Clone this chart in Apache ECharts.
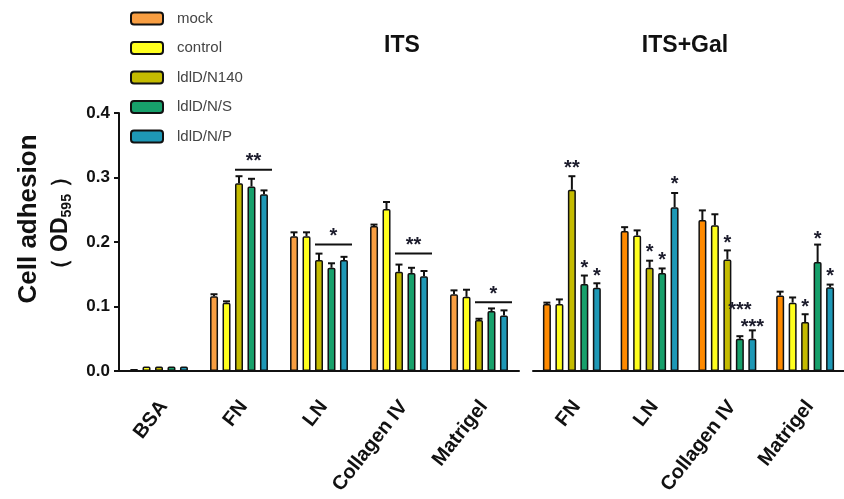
<!DOCTYPE html>
<html><head><meta charset="utf-8">
<script src="https://cdn.jsdelivr.net/npm/echarts@6/dist/echarts.min.js"></script>
<style>html,body{margin:0;padding:0;background:#fff}#c{width:844px;height:499px}</style>
</head><body><div id="c"></div>
<script>
// ---------- data ----------
const seriesNames = ['mock', 'control', 'ldlD/N140', 'ldlD/N/S', 'ldlD/N/P'];
const catsITS = ['BSA', 'FN', 'LN', 'Collagen IV', 'Matrigel'];
const catsGal = ['FN', 'LN', 'Collagen IV', 'Matrigel'];
const yTicks = [0, 0.1, 0.2, 0.3, 0.4];

// ITS means (per series, across catsITS)
const itsMock    = [0.003, 0.116, 0.209, 0.225, 0.119];
const itsControl = [0.007, 0.106, 0.209, 0.251, 0.115];
const itsN140    = [0.007, 0.291, 0.172, 0.154, 0.079];
const itsNS      = [0.007, 0.286, 0.160, 0.152, 0.093];
const itsNP      = [0.007, 0.274, 0.172, 0.147, 0.086];
// ITS error (upper)
const itsMockErr    = [0.000, 0.003, 0.006, 0.002, 0.006];
const itsControlErr = [0.000, 0.002, 0.006, 0.011, 0.011];
const itsN140Err    = [0.000, 0.011, 0.010, 0.011, 0.002];
const itsNSErr      = [0.000, 0.012, 0.007, 0.008, 0.004];
const itsNPErr      = [0.000, 0.006, 0.005, 0.008, 0.008];

// ITS+Gal means (across catsGal)
const galMock    = [0.104, 0.217, 0.234, 0.117];
const galControl = [0.104, 0.210, 0.226, 0.106];
const galN140    = [0.281, 0.160, 0.173, 0.076];
const galNS      = [0.135, 0.152, 0.050, 0.169];
const galNP      = [0.129, 0.254, 0.050, 0.130];
// ITS+Gal error (upper)
const galMockErr    = [0.002, 0.006, 0.015, 0.006];
const galControlErr = [0.007, 0.008, 0.017, 0.008];
const galN140Err    = [0.021, 0.011, 0.014, 0.012];
const galNSErr      = [0.013, 0.007, 0.004, 0.027];
const galNPErr      = [0.007, 0.022, 0.013, 0.004];

// significance (ITS): bracket over ldlD groups
const itsSigCat   = [1, 2, 3, 4];
const itsSigLevel = [0.312, 0.196, 0.182, 0.1065];
const itsSigText  = ['**', '*', '**', '*'];

// significance (ITS+Gal): [category, series, level, text]
const galSigCat    = [0, 0, 0, 1, 1, 1, 2, 2, 2, 3, 3, 3];
const galSigSeries = [2, 3, 4, 2, 3, 4, 2, 3, 4, 2, 3, 4];
const galSigLevel  = [0.320, 0.165, 0.153, 0.190, 0.177, 0.295, 0.204, 0.100, 0.074, 0.105, 0.210, 0.152];
const galSigText   = ['**', '*', '*', '*', '*', '*', '*', '***', '***', '*', '*', '*'];

// ---------- style ----------
const colorsITS = ['#F89E42', '#FFFF1E', '#C4BB00', '#17A06B', '#1E98B6'];
const colorsGal = ['#FF8A00', '#FFFF1E', '#C4BB00', '#17A06B', '#1E98B6'];
const BAR_W = 8, PITCH = 12.5;
const FONT = '"Liberation Sans", Arial, sans-serif';
const INK = '#111';

const itsMeans = [itsMock, itsControl, itsN140, itsNS, itsNP];
const itsErrs = [itsMockErr, itsControlErr, itsN140Err, itsNSErr, itsNPErr];
const galMeans = [galMock, galControl, galN140, galNS, galNP];
const galErrs = [galMockErr, galControlErr, galN140Err, galNSErr, galNPErr];

function errData(means, errs) {
  const out = [];
  means.forEach((arr, s) => arr.forEach((m, c) => {
    if (errs[s][c] > 0) out.push([c, s, m, m + errs[s][c]]);
  }));
  return out;
}
function errRender(params, api) {
  const c = api.value(0), s = api.value(1), m = api.value(2), u = api.value(3);
  const p0 = api.coord([c, m]), p1 = api.coord([c, u]);
  const x = p0[0] + (s - 2) * PITCH;
  return { type: 'group', children: [
    { type: 'line', shape: { x1: x, y1: p0[1], x2: x, y2: p1[1] }, style: { stroke: INK, lineWidth: 2 } },
    { type: 'line', shape: { x1: x - 3.5, y1: p1[1], x2: x + 3.5, y2: p1[1] }, style: { stroke: INK, lineWidth: 2 } }
  ]};
}
function itsSigRender(params, api) {
  const c = api.value(0), y = api.value(1);
  const p = api.coord([c, y]);
  const x1 = p[0] - 4, x2 = p[0] + 2 * PITCH + 8;
  return { type: 'group', children: [
    { type: 'line', shape: { x1: x1, y1: p[1], x2: x2, y2: p[1] }, style: { stroke: INK, lineWidth: 2 } },
    { type: 'text', style: { text: itsSigText[params.dataIndex], x: (x1 + x2) / 2, y: p[1] - 8,
      align: 'center', verticalAlign: 'middle', fontSize: 20, fontWeight: 'bold', fontFamily: FONT, fill: '#1c1c2c' } }
  ]};
}
function galSigRender(params, api) {
  const c = api.value(0), s = api.value(1), y = api.value(2);
  const p = api.coord([c, y]);
  const x = p[0] + (s - 2) * PITCH;
  return { type: 'text', style: { text: galSigText[params.dataIndex], x: x, y: p[1] + 4,
    align: 'center', verticalAlign: 'middle', fontSize: 20, fontWeight: 'bold', fontFamily: FONT, fill: '#1c1c2c' } };
}

const series = [];
[[itsMeans, colorsITS, 0], [galMeans, colorsGal, 1]].forEach(([means, cols, g]) => {
  means.forEach((arr, s) => {
    series.push({
      type: 'bar', name: seriesNames[s], xAxisIndex: g, yAxisIndex: g, data: arr,
      barWidth: BAR_W, barGap: '56%',
      itemStyle: { color: cols[s], borderColor: INK, borderWidth: 1.5, borderRadius: [1, 1, 0, 0] },
      emphasis: { disabled: true }
    });
  });
});
series.push({ type: 'custom', xAxisIndex: 0, yAxisIndex: 0, renderItem: errRender,
  data: errData(itsMeans, itsErrs), encode: { x: 0, y: [2, 3] }, z: 5, silent: true });
series.push({ type: 'custom', xAxisIndex: 1, yAxisIndex: 1, renderItem: errRender,
  data: errData(galMeans, galErrs), encode: { x: 0, y: [2, 3] }, z: 5, silent: true });
series.push({ type: 'custom', xAxisIndex: 0, yAxisIndex: 0, renderItem: itsSigRender,
  data: itsSigCat.map((c, i) => [c, itsSigLevel[i]]), encode: { x: 0, y: 1 }, z: 6, silent: true });
series.push({ type: 'custom', xAxisIndex: 1, yAxisIndex: 1, renderItem: galSigRender,
  data: galSigCat.map((c, i) => [c, galSigSeries[i], galSigLevel[i]]), encode: { x: 0, y: 2 }, z: 6, silent: true });

function xAxisCfg(cats, g) {
  return {
    type: 'category', gridIndex: g, data: cats,
    axisLine: { lineStyle: { color: INK, width: 2 } },
    axisTick: { alignWithLabel: true, length: 6, lineStyle: { color: INK, width: 2 } },
    axisLabel: { rotate: 52, margin: 22, verticalAlign: 'top', padding: [0, 5, 0, 0], fontSize: 20, fontWeight: 'bold', color: INK, fontFamily: FONT, interval: 0 },
    splitLine: { show: false }
  };
}

const chart = echarts.init(document.getElementById('c'), null, { renderer: 'canvas' });
chart.setOption({
  animation: false,
  backgroundColor: '#fff',
  title: [
    { text: 'ITS', left: 397, top: 29, textAlign: 'center', textStyle: { fontSize: 23, fontWeight: 'bold', color: INK, fontFamily: FONT } },
    { text: 'ITS+Gal', left: 680, top: 29, textAlign: 'center', textStyle: { fontSize: 23, fontWeight: 'bold', color: INK, fontFamily: FONT } }
  ],
  legend: {
    data: seriesNames, orient: 'vertical', left: 130, top: 11, padding: 0, itemGap: 14.5,
    itemWidth: 32, itemHeight: 12, icon: 'roundRect',
    itemStyle: { borderColor: INK, borderWidth: 2 },
    textStyle: { fontSize: 15, color: '#444', fontFamily: FONT, padding: [0, 0, 0, 9] }, selectedMode: false
  },
  grid: [
    { left: 119, top: 113, width: 400, height: 258 },
    { left: 533, top: 113, width: 316, height: 258 }
  ],
  xAxis: [xAxisCfg(catsITS, 0), xAxisCfg(catsGal, 1)],
  yAxis: [
    { type: 'value', gridIndex: 0, min: yTicks[0], max: yTicks[yTicks.length - 1], interval: 0.1,
      axisLine: { show: true, lineStyle: { color: INK, width: 2 } },
      axisTick: { show: true, length: 5, lineStyle: { color: INK, width: 2 } },
      axisLabel: { margin: 9, fontSize: 17, fontWeight: 'bold', color: INK, fontFamily: FONT, formatter: v => v.toFixed(1) },
      splitLine: { show: false } },
    { type: 'value', gridIndex: 1, min: yTicks[0], max: yTicks[yTicks.length - 1], interval: 0.1, show: false,
      splitLine: { show: false } }
  ],
  graphic: [
    { type: 'text', x: 29, y: 219, rotation: Math.PI / 2,
      style: { text: 'Cell adhesion', fontSize: 26, fontWeight: 'bold', fontFamily: FONT, fill: INK, align: 'center', verticalAlign: 'middle' } },
    { type: 'text', x: 61, y: 223, rotation: Math.PI / 2,
      style: { text: '{p|（ OD}{s|595}{p| ）}', align: 'center', verticalAlign: 'middle', fill: INK,
        rich: {
          p: { fontSize: 23, fontWeight: 'bold', fontFamily: FONT, lineHeight: 26, fill: INK },
          s: { fontSize: 14, fontWeight: 'bold', fontFamily: FONT, lineHeight: 26, verticalAlign: 'bottom', fill: INK, padding: [8, 0, 0, 0] }
        } } }
  ],
  series: series
});
</script></body></html>
